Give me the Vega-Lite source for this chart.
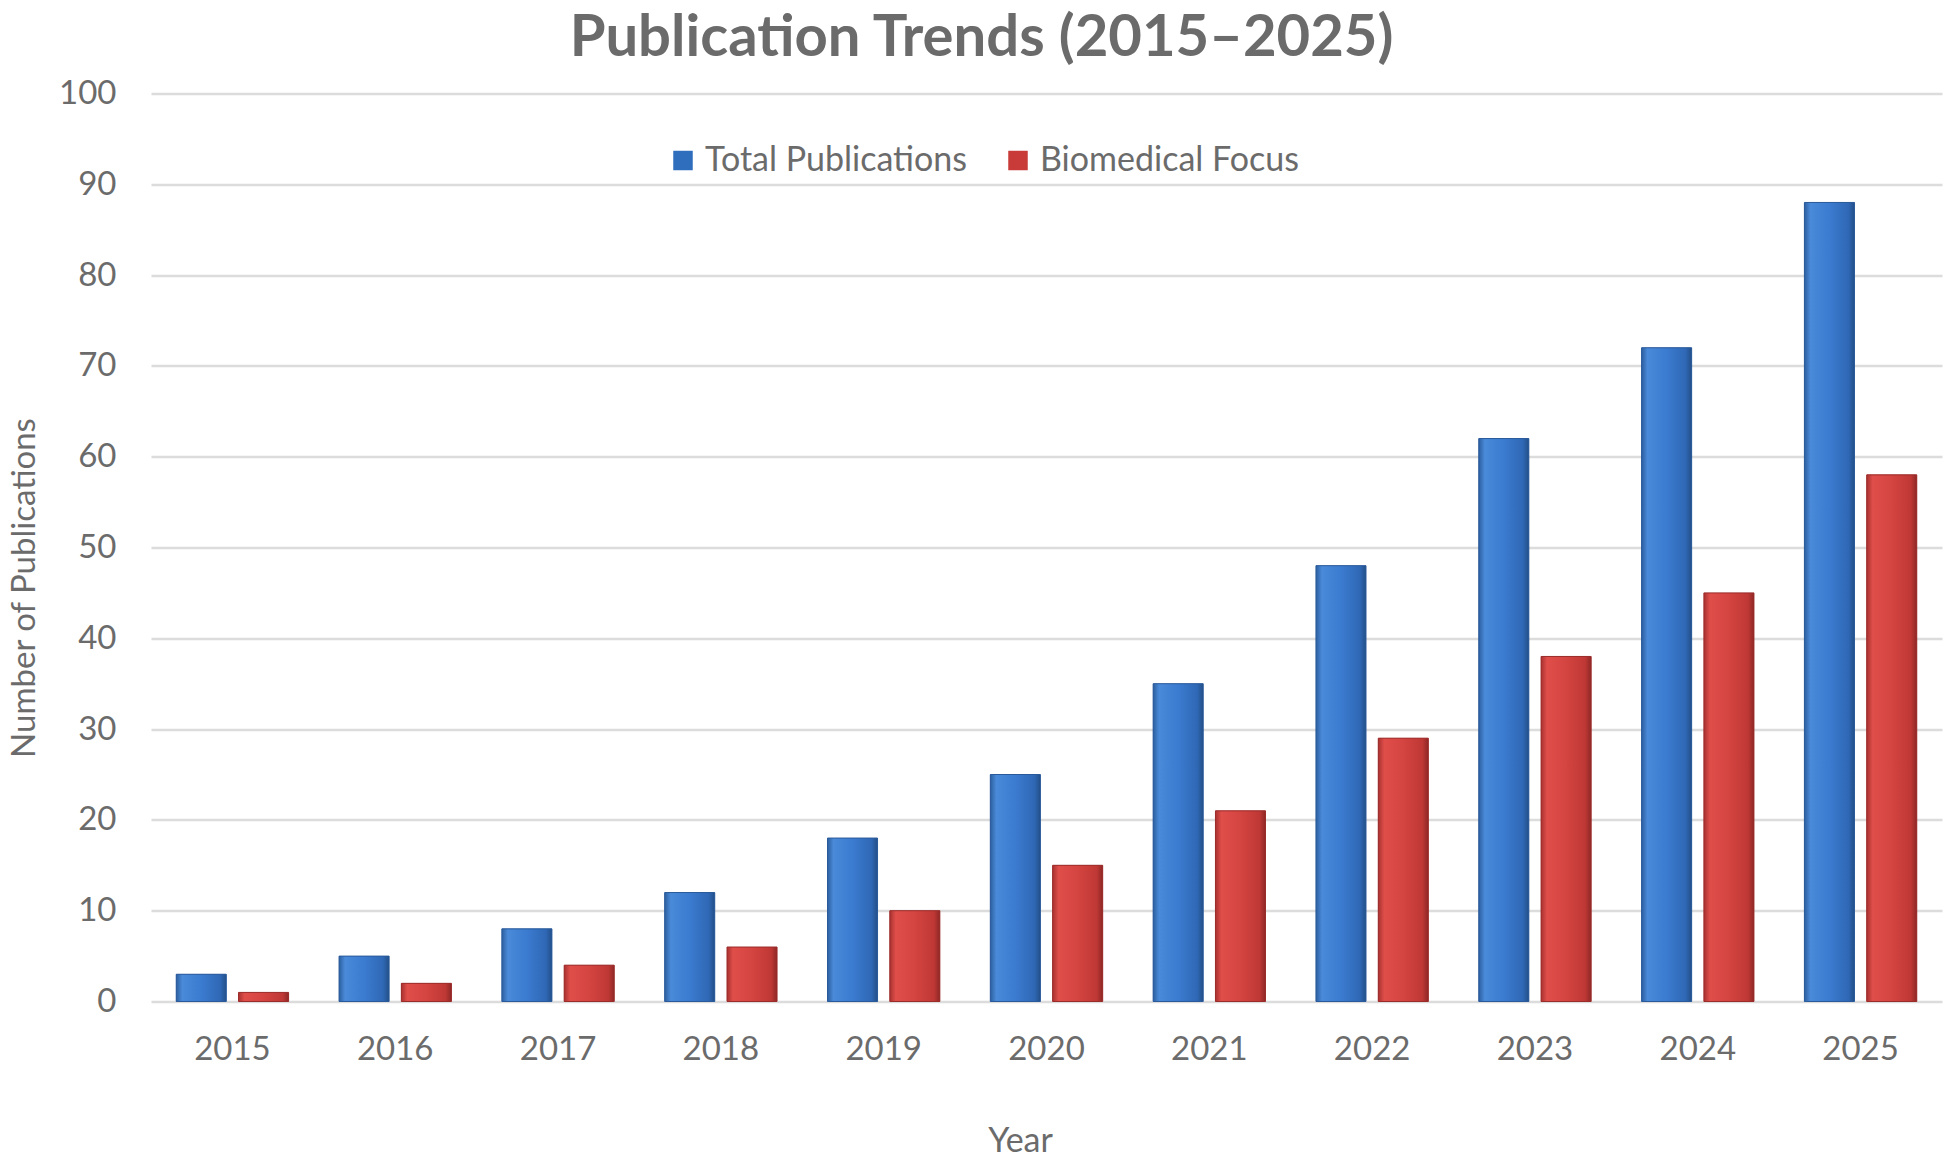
{
  "$schema": "https://vega.github.io/schema/vega-lite/v6.json",
  "width": 1791,
  "height": 908,
  "autosize": "none",
  "padding": {"left": 151, "top": 93.5, "right": 6, "bottom": 157.5},
  "background": "white",
  "config": {"view": {"stroke": null}, "font": "Lato"},
  "title": {
    "text": "Publication Trends (2015–2025)",
    "font": "Lato",
    "fontSize": 58,
    "fontWeight": "bold",
    "color": "#6b6b6b",
    "anchor": "middle",
    "frame": "group",
    "dx": -65,
    "offset": 10
  },
  "data": {
    "values": [
      {"year": "2015", "series": "Total Publications", "count": 3},
      {"year": "2016", "series": "Total Publications", "count": 5},
      {"year": "2017", "series": "Total Publications", "count": 8},
      {"year": "2018", "series": "Total Publications", "count": 12},
      {"year": "2019", "series": "Total Publications", "count": 18},
      {"year": "2020", "series": "Total Publications", "count": 25},
      {"year": "2021", "series": "Total Publications", "count": 35},
      {"year": "2022", "series": "Total Publications", "count": 48},
      {"year": "2023", "series": "Total Publications", "count": 62},
      {"year": "2024", "series": "Total Publications", "count": 72},
      {"year": "2025", "series": "Total Publications", "count": 88},
      {"year": "2015", "series": "Biomedical Focus", "count": 1},
      {"year": "2016", "series": "Biomedical Focus", "count": 2},
      {"year": "2017", "series": "Biomedical Focus", "count": 4},
      {"year": "2018", "series": "Biomedical Focus", "count": 6},
      {"year": "2019", "series": "Biomedical Focus", "count": 10},
      {"year": "2020", "series": "Biomedical Focus", "count": 15},
      {"year": "2021", "series": "Biomedical Focus", "count": 21},
      {"year": "2022", "series": "Biomedical Focus", "count": 29},
      {"year": "2023", "series": "Biomedical Focus", "count": 38},
      {"year": "2024", "series": "Biomedical Focus", "count": 45},
      {"year": "2025", "series": "Biomedical Focus", "count": 58}
    ]
  },
  "encoding": {
    "x": {
      "field": "year",
      "type": "nominal",
      "scale": {"paddingInner": 0, "paddingOuter": 0},
      "axis": {
        "title": "Year",
        "titleFont": "Lato",
        "titleFontSize": 34,
        "titleFontWeight": "normal",
        "titleColor": "#6b6b6b",
        "titleX": 869,
        "titleY": 140,
        "titleBaseline": "middle",
        "labelAngle": 0,
        "labelFont": "Lato",
        "labelFontSize": 33,
        "labelColor": "#6b6b6b",
        "labelBaseline": "middle",
        "labelPadding": 48,
        "ticks": false,
        "domain": false,
        "grid": false
      }
    },
    "xOffset": {
      "field": "series",
      "type": "nominal",
      "sort": ["Total Publications", "Biomedical Focus"],
      "scale": {"paddingInner": 0.197, "paddingOuter": 0.405}
    },
    "y": {
      "field": "count",
      "type": "quantitative",
      "scale": {"domain": [0, 100], "nice": false},
      "axis": {
        "title": "Number of Publications",
        "titleFont": "Lato",
        "titleFontSize": 33,
        "titleFontWeight": "normal",
        "titleColor": "#6b6b6b",
        "titleX": -127,
        "titleY": 494,
        "titleAngle": -90,
        "titleBaseline": "middle",
        "titleAlign": "center",
        "values": [0, 10, 20, 30, 40, 50, 60, 70, 80, 90, 100],
        "labelOverlap": false,
        "labelFont": "Lato",
        "labelFontSize": 33,
        "labelColor": "#6b6b6b",
        "labelPadding": 35,
        "ticks": false,
        "domain": false,
        "grid": true,
        "gridColor": "#dcdcdc",
        "gridWidth": 2.5
      }
    }
  },
  "layer": [
    {
      "mark": {"type": "bar"},
      "encoding": {
        "color": {
          "field": "series",
          "type": "nominal",
          "sort": ["Total Publications", "Biomedical Focus"],
          "scale": {"domain": ["Total Publications", "Biomedical Focus"], "range": ["#2f6dbd", "#c83b39"]},
          "legend": {
            "title": null,
            "orient": "none",
            "direction": "horizontal",
            "legendX": 515,
            "legendY": 50,
            "symbolType": "square",
            "symbolSize": 380,
            "symbolStrokeWidth": 0,
            "labelFont": "Lato",
            "labelFontSize": 34,
            "labelColor": "#6b6b6b",
            "labelOffset": 5,
            "labelLimit": 500,
            "columnPadding": 34
          }
        }
      }
    },
    {
      "transform": [{"filter": "datum.series === 'Total Publications'"}],
      "mark": {
        "type": "bar",
        "stroke": "#2a5a9a",
        "strokeWidth": 1,
        "fill": {
          "gradient": "linear", "x1": 0, "x2": 1, "y1": 0, "y2": 0,
          "stops": [
            {"offset": 0, "color": "#2c5f9f"},
            {"offset": 0.12, "color": "#4a8ad9"},
            {"offset": 0.5, "color": "#3b7bd0"},
            {"offset": 0.88, "color": "#2f68b5"},
            {"offset": 1, "color": "#234f88"}
          ]
        }
      }
    },
    {
      "transform": [{"filter": "datum.series === 'Biomedical Focus'"}],
      "mark": {
        "type": "bar",
        "stroke": "#9a2c2a",
        "strokeWidth": 1,
        "fill": {
          "gradient": "linear", "x1": 0, "x2": 1, "y1": 0, "y2": 0,
          "stops": [
            {"offset": 0, "color": "#a83230"},
            {"offset": 0.12, "color": "#e04e4a"},
            {"offset": 0.5, "color": "#d44440"},
            {"offset": 0.88, "color": "#bf3835"},
            {"offset": 1, "color": "#8e2826"}
          ]
        }
      }
    }
  ]
}
